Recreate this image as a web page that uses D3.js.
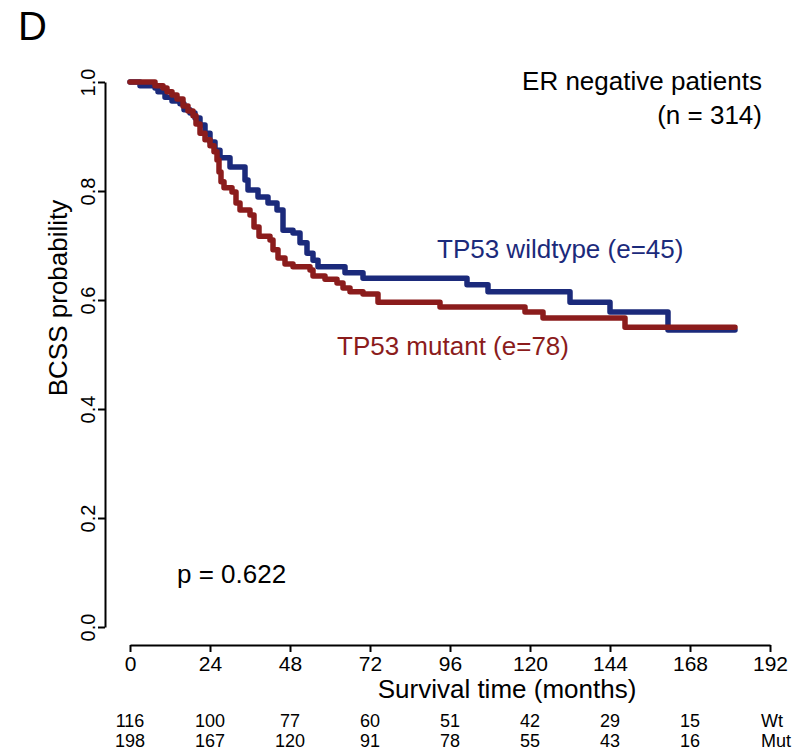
<!DOCTYPE html>
<html>
<head>
<meta charset="utf-8">
<script src="https://cdn.jsdelivr.net/npm/d3@7"></script>
<style>
  body { margin: 0; background: #fff; }
  svg text { font-family: "Liberation Sans", Arial, sans-serif; }
</style>
</head>
<body>
<div id="chart"></div>
<script>
// step points: time (months) of each drop and survival after it
var wtTime = [3, 7.5, 8.4, 10.5, 12.6, 15, 16.2, 18, 19.5, 21, 22.5, 24, 25.5, 27, 30, 34.5, 35.4, 38.4,
              41.4, 44.1, 45.9, 48.9, 51, 53.1, 54.9, 56.4, 64.5, 69.9, 101.1, 107.4, 132, 144, 161.4];
var wtSurv = [0.993, 0.989, 0.982, 0.972, 0.965, 0.960, 0.949, 0.943, 0.934, 0.921, 0.906, 0.890, 0.875,
              0.861, 0.844, 0.820, 0.802, 0.789, 0.778, 0.765, 0.728, 0.723, 0.705, 0.686, 0.673, 0.661,
              0.650, 0.640, 0.628, 0.615, 0.596, 0.578, 0.545];
var mutTime = [7.5, 9.9, 11.1, 12.6, 14.1, 15.9, 17.4, 18.9, 19.8, 21, 22.5, 24, 25.2, 26.1, 26.7, 27.3,
               28.2, 30.6, 31.8, 33, 36, 37.2, 38.7, 42, 42.9, 44.4, 46.5, 48.9, 54, 54.9, 58.5, 62.1,
               63.9, 66, 69.9, 74.4, 93, 118.5, 123.9, 148.5];
var mutSurv = [0.993, 0.989, 0.982, 0.976, 0.969, 0.956, 0.947, 0.938, 0.923, 0.906, 0.894, 0.883, 0.872,
               0.857, 0.835, 0.817, 0.806, 0.798, 0.778, 0.765, 0.756, 0.734, 0.717, 0.710, 0.692, 0.677,
               0.666, 0.661, 0.655, 0.644, 0.638, 0.631, 0.622, 0.615, 0.611, 0.596, 0.587, 0.578, 0.567,
               0.550];
var followEnd = 181.5;

var xTicks = [0, 24, 48, 72, 96, 120, 144, 168, 192];
var yTicks = [0, 0.2, 0.4, 0.6, 0.8, 1.0];
var riskTimes = [0, 24, 48, 72, 96, 120, 144, 168];
var riskWt = [116, 100, 77, 60, 51, 42, 29, 15];
var riskMut = [198, 167, 120, 91, 78, 55, 43, 16];

var W = 805, H = 754;
var blue = "#1b2a7b", red = "#8b1c1c";

var svg = d3.select("#chart").append("svg")
  .attr("width", W).attr("height", H);

var x = d3.scaleLinear().domain([0, 192]).range([130, 770]);
var y = d3.scaleLinear().domain([0, 1]).range([627, 82]);

// y axis, labels turned like R's las=0
var yAxis = d3.axisLeft(y).tickValues(yTicks).tickFormat(d3.format(".1f"))
  .tickSizeInner(7).tickSizeOuter(0);
var gy = svg.append("g").attr("transform", "translate(105,0)").call(yAxis);
gy.select(".domain").attr("stroke-width", 2);
gy.selectAll(".tick line").attr("stroke-width", 2);
gy.selectAll(".tick text")
  .attr("font-size", 20)
  .attr("text-anchor", "middle")
  .attr("transform", "rotate(-90)")
  .attr("x", 0).attr("y", -10).attr("dy", 0);

// x axis
var xAxis = d3.axisBottom(x).tickValues(xTicks).tickFormat(d3.format("d"))
  .tickSizeInner(7).tickSizeOuter(0).tickPadding(4);
var gx = svg.append("g").attr("transform", "translate(0,645)").call(xAxis);
gx.select(".domain").attr("stroke-width", 2);
gx.selectAll(".tick line").attr("stroke-width", 2);
gx.selectAll(".tick text").attr("font-size", 21);

// curves
var line = d3.line()
  .x(function(d) { return x(d[0]); })
  .y(function(d) { return y(d[1]); })
  .curve(d3.curveStepAfter);

function stepPoints(times, surv) {
  var pts = [[0, 1]];
  times.forEach(function(t, i) { pts.push([t, surv[i]]); });
  pts.push([followEnd, surv[surv.length - 1]]);
  return pts;
}

svg.append("path").datum(stepPoints(wtTime, wtSurv))
  .attr("d", line).attr("fill", "none").attr("stroke", blue)
  .attr("stroke-width", 5.5).attr("stroke-linecap", "round").attr("stroke-linejoin", "round");
svg.append("path").datum(stepPoints(mutTime, mutSurv))
  .attr("d", line).attr("fill", "none").attr("stroke", red)
  .attr("stroke-width", 5.5).attr("stroke-linecap", "round").attr("stroke-linejoin", "round");

// labels
svg.append("text").attr("x", 18).attr("y", 40).attr("font-size", 40).text("D");

svg.append("text").attr("x", 762).attr("y", 90).attr("font-size", 26)
  .attr("text-anchor", "end").text("ER negative patients");
svg.append("text").attr("x", 762).attr("y", 124).attr("font-size", 26)
  .attr("text-anchor", "end").text("(n = 314)");

svg.append("text").attr("x", 437).attr("y", 258).attr("font-size", 26)
  .attr("fill", blue).text("TP53 wildtype (e=45)");
svg.append("text").attr("x", 337).attr("y", 355).attr("font-size", 26)
  .attr("fill", red).text("TP53 mutant (e=78)");

svg.append("text").attr("x", 177).attr("y", 583).attr("font-size", 26).text("p = 0.622");

svg.append("text").attr("transform", "translate(67,298) rotate(-90)")
  .attr("text-anchor", "middle").attr("font-size", 26).text("BCSS probability");

svg.append("text").attr("x", 507).attr("y", 698).attr("text-anchor", "middle")
  .attr("font-size", 26).text("Survival time (months)");

// number at risk
svg.selectAll("text.wt").data(riskWt).enter().append("text")
  .attr("class", "wt").attr("x", function(d, i) { return x(riskTimes[i]); })
  .attr("y", 727).attr("text-anchor", "middle").attr("font-size", 18).text(function(d) { return d; });
svg.selectAll("text.mut").data(riskMut).enter().append("text")
  .attr("class", "mut").attr("x", function(d, i) { return x(riskTimes[i]); })
  .attr("y", 747).attr("text-anchor", "middle").attr("font-size", 18).text(function(d) { return d; });
svg.append("text").attr("x", 761).attr("y", 727).attr("font-size", 18).text("Wt");
svg.append("text").attr("x", 761).attr("y", 747).attr("font-size", 18).text("Mut");
</script>
</body>
</html>
